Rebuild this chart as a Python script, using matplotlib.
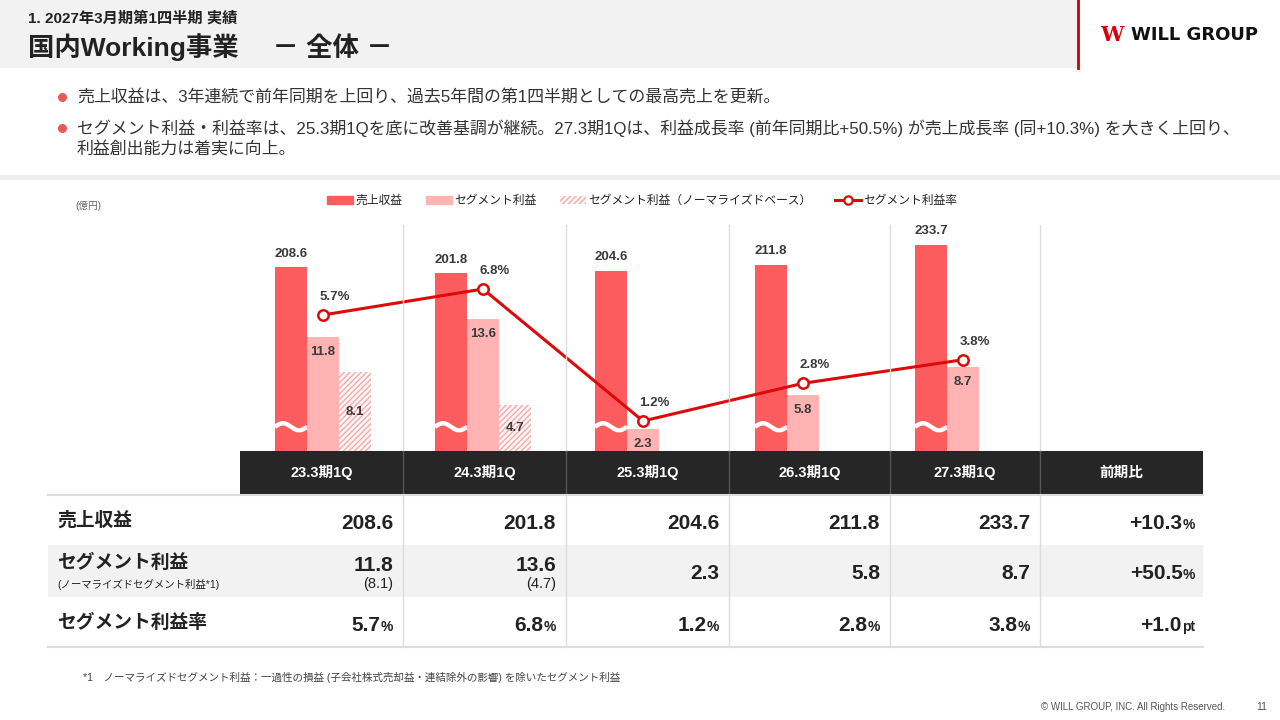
import matplotlib
matplotlib.use("Agg")
import matplotlib.pyplot as plt
import numpy as np
from matplotlib.patches import Patch, Rectangle
from matplotlib.lines import Line2D

plt.rcParams['font.family'] = ['Liberation Sans', 'Noto Sans CJK JP']

# ---- data ----
periods = ['23.3期1Q', '24.3期1Q', '25.3期1Q', '26.3期1Q', '27.3期1Q']
revenue = [208.6, 201.8, 204.6, 211.8, 233.7]
seg_profit = [11.8, 13.6, 2.3, 5.8, 8.7]
norm_profit = [8.1, 4.7, None, None, None]
margin = [5.7, 6.8, 1.2, 2.8, 3.8]
yoy_vals = ['+10.3', '+50.5', '+1.0']
yoy_units = ['%', '%', 'pt']

row_labels = ['売上収益', 'セグメント利益', 'セグメント利益率']
row_sub = '(ノーマライズドセグメント利益*1)'

# colours
C_REV = '#fd5c5e'
C_SEG = '#ffb3b3'
C_HATCH = '#f5a9a9'
C_LINE = '#dd0a0a'
C_TXT = '#3a3a3a'

W, H = 1280, 720
fig = plt.figure(figsize=(12.8, 7.2), dpi=100)


def fx(x):
    return x / W


def fy(y):
    return 1 - y / H


def ftxt(x, y, s, **kw):
    return fig.text(fx(x), fy(y), s, **kw)


def hline(x0, x1, y, **kw):
    fig.add_artist(Line2D([fx(x0), fx(x1)], [fy(y), fy(y)], **kw))


def vline(x, y0, y1, **kw):
    fig.add_artist(Line2D([fx(x), fx(x)], [fy(y0), fy(y1)], **kw))


def rect(x0, y0, x1, y1, **kw):
    fig.add_artist(Rectangle((fx(x0), fy(y1)), fx(x1) - fx(x0), fy(y0) - fy(y1),
                             transform=fig.transFigure, **kw))


# ---- header ----
rect(0, 0, 1078, 68, color='#f2f2f2', lw=0)
vline(1078, 0, 68, color='#cc0000', lw=2)
ftxt(28, 18, '1. 2027年3月期第1四半期 実績', fontsize=11, fontweight='bold',
     color='#222222', va='center')
ftxt(28, 47, '国内Working事業　 － 全体 －', fontsize=19, fontweight='bold',
     color='#222222', va='center')
ftxt(1112, 35, 'W', family='DejaVu Serif', fontsize=15, fontweight='bold',
     color='#d7000f', ha='center', va='center')
ftxt(1131, 35, 'WILL GROUP', family='DejaVu Sans', fontsize=13, fontweight='bold',
     color='#111111', va='center')

# ---- bullets ----
bullets = [
    (97, '売上収益は、3年連続で前年同期を上回り、過去5年間の第1四半期としての最高売上を更新。'),
    (128, 'セグメント利益・利益率は、25.3期1Qを底に改善基調が継続。27.3期1Qは、利益成長率 (前年同期比+50.5%) が売上成長率 (同+10.3%) を大きく上回り、'),
]
for y, s in bullets:
    fig.add_artist(Line2D([fx(62)], [fy(y)], marker='o', ms=5.5, color='#e85a5a', lw=0))
    ftxt(77, y, s, fontsize=12.2, color='#333333', va='center')
ftxt(77, 150, '利益創出能力は着実に向上。', fontsize=12.2, color='#333333', va='center')
rect(0, 175, W, 180, color='#eeeeee', lw=0)

# ---- chart ----
col_edges = [240, 403, 566, 729, 890, 1040, 1203]
chart_top, chart_bot = 228, 451
for x in col_edges[1:-1]:
    vline(x, 225, chart_bot, color='#dddddd', lw=1)

ax = fig.add_axes([fx(240), fy(chart_bot), (1203 - 240) / W, (chart_bot - chart_top) / H])
ax_seg = ax.twinx()
ax_pct = ax.twinx()
for a in (ax, ax_seg, ax_pct):
    a.set_xlim(-0.51875, 5.5)
    a.axis('off')
ax.set_ylim(0, 253.4)
ax_seg.set_ylim(0, 23.0)
ax_pct.set_ylim(-0.072, 9.39)

x = np.arange(len(periods))
bw = 0.2
ax.bar(x - bw, revenue, width=bw, color=C_REV, lw=0)
ax_seg.bar(x, seg_profit, width=bw, color=C_SEG, lw=0)
nx = [i + bw for i, v in enumerate(norm_profit) if v is not None]
nv = [v for v in norm_profit if v is not None]
ax_seg.bar(nx, nv, width=bw, facecolor='#fff6f6', edgecolor=C_HATCH, hatch='//////', lw=0)

# wavy axis-break marks on revenue bars
t = np.linspace(0, 1, 40)
for xi in x:
    ax.plot(xi - bw - bw / 2 + t * bw, 27.5 + 4.0 * np.sin(2 * np.pi * t),
            color='white', lw=3.2, solid_capstyle='butt', zorder=3)

lab = dict(fontsize=9.5, fontweight='bold', color=C_TXT, ha='center', va='center',
           textcoords='offset points', annotation_clip=False)
for xi, v in zip(x, revenue):
    ax.annotate(f'{v:.1f}', (xi - bw, v), xytext=(0, 10), **lab)
for xi, v in zip(x, seg_profit):
    ax_seg.annotate(f'{v:.1f}', (xi, v), xytext=(0, -11), **lab)
for xi, v in zip(nx, nv):
    ax_seg.annotate(f'{v:.1f}', (xi, v / 2), xytext=(0, 0), **lab)

ax_pct.plot(x, margin, color=C_LINE, lw=2.2, marker='o', ms=7.5, mfc='white',
            mec=C_LINE, mew=1.8, zorder=5)
for xi, v in zip(x, margin):
    ax_pct.annotate(f'{v:.1f}%', (xi, v), xytext=(8.5, 13), **lab)

ftxt(75, 206, '(億円)', fontsize=7, color='#666666', va='center')

handles = [
    Patch(color=C_REV),
    Patch(color=C_SEG),
    Patch(facecolor='#fff6f6', edgecolor=C_HATCH, hatch='//////', lw=0),
    Line2D([], [], color=C_LINE, lw=2.2, marker='o', ms=6, mfc='white', mec=C_LINE, mew=1.6),
]
names = ['売上収益', 'セグメント利益', 'セグメント利益（ノーマライズドベース）', 'セグメント利益率']
fig.legend(handles, names, loc='center', bbox_to_anchor=(fx(642), fy(201)), ncol=4,
           frameon=False, prop=dict(size=8.5), handlelength=2.2, handleheight=0.75,
           handletextpad=0.2, columnspacing=2.0, labelcolor='#222222')

# ---- table ----
rect(240, 451, 1203, 494, color='#262626', lw=0)
for xe in col_edges[1:-1]:
    vline(xe, 451, 494, color='#555555', lw=1)
headers = periods + ['前期比']
for i, h in enumerate(headers):
    ftxt((col_edges[i] + col_edges[i + 1]) / 2, 473, h, fontsize=10.5, fontweight='bold',
         color='white', ha='center', va='center')

rect(48, 545, 1203, 597, color='#f2f2f2', lw=0)
hline(48, 1203, 495, color='#dcdcdc', lw=1.5)
hline(48, 1203, 647, color='#dcdcdc', lw=1.5)
for xe in col_edges[1:-1]:
    vline(xe, 495, 647, color='#dcdcdc', lw=1)

ftxt(57, 521, row_labels[0], fontsize=13.5, fontweight='bold', color='#222222', va='center')
ftxt(57, 563, row_labels[1], fontsize=13.5, fontweight='bold', color='#222222', va='center')
ftxt(57, 584, row_sub, fontsize=7.5, color='#222222', va='center')
ftxt(57, 623, row_labels[2], fontsize=13.5, fontweight='bold', color='#222222', va='center')

renderer = fig.canvas.get_renderer()


def num_unit(xr, yb, num, unit=''):
    off = 0
    if unit:
        u = ftxt(xr, yb, unit, fontsize=10, fontweight='bold', color='#222222',
                 ha='right', va='baseline')
        off = u.get_window_extent(renderer).width
    ftxt(xr - off, yb, num, fontsize=15, fontweight='bold', color='#222222',
         ha='right', va='baseline')


for i in range(len(periods)):
    xr = col_edges[i + 1] - 10
    num_unit(xr, 529, f'{revenue[i]:.1f}')
    if norm_profit[i] is not None:
        num_unit(xr, 571, f'{seg_profit[i]:.1f}')
        ftxt(xr, 584, f'({norm_profit[i]:.1f})', fontsize=10.5, color='#222222',
             ha='right', va='center')
    else:
        num_unit(xr, 579, f'{seg_profit[i]:.1f}')
    num_unit(xr, 631, f'{margin[i]:.1f}', '%')

xr = col_edges[-1] - 8
for yb, v, u in zip([529, 579, 631], yoy_vals, yoy_units):
    num_unit(xr, yb, v, u)

# ---- footer ----
ftxt(83, 677, '*1　ノーマライズドセグメント利益：一過性の損益 (子会社株式売却益・連結除外の影響) を除いたセグメント利益',
     fontsize=7.6, color='#444444', va='center')
ftxt(1225, 707, '© WILL GROUP, INC. All Rights Reserved.', fontsize=7, color='#555555',
     ha='right', va='center')
ftxt(1262, 707, '11', fontsize=7.5, color='#555555', ha='center', va='center')

fig.savefig('out.png', dpi=100)
